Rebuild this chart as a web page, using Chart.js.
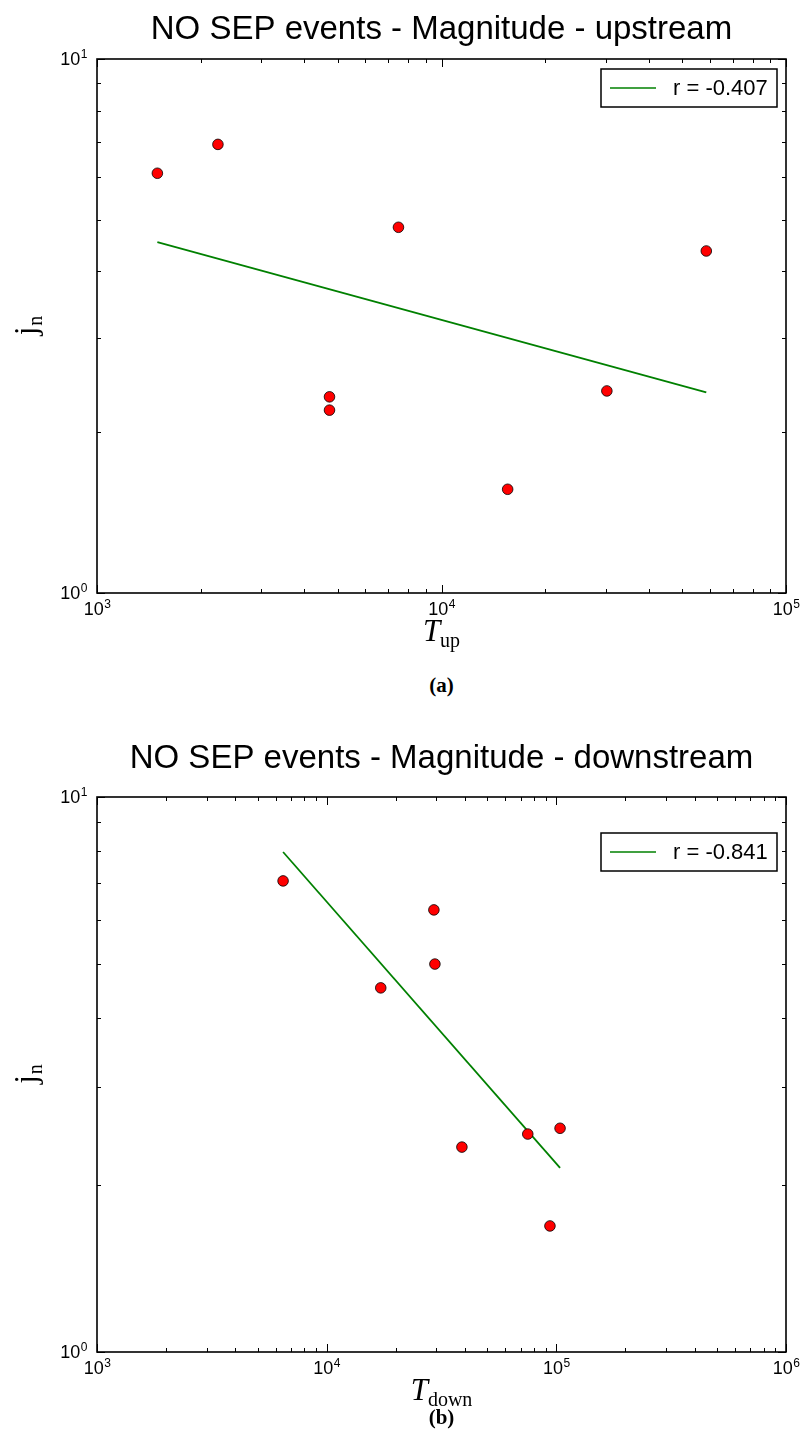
<!DOCTYPE html>
<html>
<head>
<meta charset="utf-8">
<script src="https://cdn.jsdelivr.net/npm/chart.js@4.4.1/dist/chart.umd.min.js"></script>
<style>
    body { margin: 0; background: #fff; }
    .wrap { position: relative; width: 802px; height: 1438px; overflow: hidden; }
    .panel { position: absolute; left: 0; width: 802px; }
    .caption {
        position: absolute; left: 97px; width: 689px; text-align: center;
        font-family: "Liberation Serif", "DejaVu Serif", serif; font-weight: bold; font-size: 21px;
    }
</style>
</head>
<body>
<div class="wrap">
    <div class="panel" style="top:0"><canvas id="chartUp" width="802" height="660"></canvas></div>
    <div class="caption" style="top:673px">(a)</div>
    <div class="panel" style="top:720px"><canvas id="chartDown" width="802" height="700"></canvas></div>
    <div class="caption" style="top:1405px">(b)</div>
</div>
<script>
// Panel (a): upstream
const upTime = [1497, 2244, 4730, 4730, 7500, 15560, 30200, 58700];
const upJn = [6.11, 6.92, 2.33, 2.20, 4.84, 1.564, 2.39, 4.37];
const upFitTime = [1497, 58700];
const upFitJn = [4.54, 2.376];
const upFitLabel = 'r = -0.407';
const upXTicks = [1000, 2000, 3000, 4000, 5000, 6000, 7000, 8000, 9000,
    10000, 20000, 30000, 40000, 50000, 60000, 70000, 80000, 90000, 100000];
const upXMajor = [1000, 10000, 100000];
const upXExp = ['3', '4', '5'];

// Panel (b): downstream
const downTime = [6460, 17200, 29300, 29600, 38800, 75100, 93800, 103800];
const downJn = [7.06, 4.53, 6.26, 5.00, 2.34, 2.47, 1.687, 2.53];
const downFitTime = [6460, 103800];
const downFitJn = [7.96, 2.146];
const downFitLabel = 'r = -0.841';
const downXTicks = [1000, 2000, 3000, 4000, 5000, 6000, 7000, 8000, 9000,
    10000, 20000, 30000, 40000, 50000, 60000, 70000, 80000, 90000,
    100000, 200000, 300000, 400000, 500000, 600000, 700000, 800000, 900000, 1000000];
const downXMajor = [1000, 10000, 100000, 1000000];
const downXExp = ['3', '4', '5', '6'];

// shared y axis (j_n)
const jnTicks = [1, 2, 3, 4, 5, 6, 7, 8, 9, 10];
const jnMajor = [1, 10];
const jnExp = ['0', '1'];

const SANS = '"Liberation Sans", Arial, sans-serif';
const SERIF = '"Liberation Serif", "DejaVu Serif", serif';

function drawPowerLabel(ctx, exp, x, y, align) {
    ctx.font = '18px ' + SANS;
    const wBase = ctx.measureText('10').width;
    ctx.font = '12px ' + SANS;
    const wExp = ctx.measureText(exp).width;
    let left = x;
    if (align === 'center') left = x - (wBase + wExp) / 2;
    if (align === 'right') left = x - wBase - wExp;
    ctx.textAlign = 'left';
    ctx.textBaseline = 'alphabetic';
    ctx.font = '18px ' + SANS;
    ctx.fillText('10', left, y);
    ctx.font = '12px ' + SANS;
    ctx.fillText(exp, left + wBase + 0.5, y - 7);
}

function framePlugin(cfg) {
    return {
        id: 'frame',
        afterDraw(chart) {
            const ctx = chart.ctx;
            const area = chart.chartArea;
            const xs = chart.scales.x;
            const ys = chart.scales.y;
            ctx.save();
            ctx.strokeStyle = '#000';
            ctx.fillStyle = '#000';

            // tick marks point inwards, mirrored on top and right
            ctx.lineWidth = 1;
            xs.ticks.forEach(t => {
                const px = Math.round(xs.getPixelForValue(t.value)) + 0.5;
                const len = cfg.xMajor.includes(t.value) ? 8 : 4;
                ctx.beginPath();
                ctx.moveTo(px, area.bottom);
                ctx.lineTo(px, area.bottom - len);
                ctx.moveTo(px, area.top);
                ctx.lineTo(px, area.top + len);
                ctx.stroke();
            });
            ys.ticks.forEach(t => {
                const py = Math.round(ys.getPixelForValue(t.value)) + 0.5;
                const len = jnMajor.includes(t.value) ? 8 : 4;
                ctx.beginPath();
                ctx.moveTo(area.left, py);
                ctx.lineTo(area.left + len, py);
                ctx.moveTo(area.right, py);
                ctx.lineTo(area.right - len, py);
                ctx.stroke();
            });

            ctx.lineWidth = 1.6;
            ctx.strokeRect(area.left, area.top, area.width, area.height);

            // tick labels
            cfg.xMajor.forEach((v, i) => {
                drawPowerLabel(ctx, cfg.xExp[i], xs.getPixelForValue(v), area.bottom + 22, 'center');
            });
            jnMajor.forEach((v, i) => {
                drawPowerLabel(ctx, jnExp[i], area.left - 10, ys.getPixelForValue(v) + 6, 'right');
            });

            // x axis title: italic T with roman subscript
            ctx.textBaseline = 'alphabetic';
            ctx.textAlign = 'left';
            ctx.font = 'italic 31px ' + SERIF;
            const wT = ctx.measureText('T').width;
            ctx.font = '20px ' + SERIF;
            const wSub = ctx.measureText(cfg.xSub).width;
            const cx = (area.left + area.right) / 2;
            const tx = cx - (wT + wSub) / 2;
            const ty = area.bottom + 48;
            ctx.font = 'italic 31px ' + SERIF;
            ctx.fillText('T', tx, ty);
            ctx.font = '20px ' + SERIF;
            ctx.fillText(cfg.xSub, tx + wT, ty + 6);

            // y axis title: j_n, rotated
            ctx.save();
            ctx.translate(36, (area.top + area.bottom) / 2);
            ctx.rotate(-Math.PI / 2);
            ctx.font = '31px ' + SERIF;
            const wJ = ctx.measureText('j').width;
            ctx.font = '20px ' + SERIF;
            const wN = ctx.measureText('n').width;
            ctx.font = '31px ' + SERIF;
            ctx.fillText('j', -(wJ + wN) / 2, 0);
            ctx.font = '20px ' + SERIF;
            ctx.fillText('n', -(wJ + wN) / 2 + wJ + 1, 6);
            ctx.restore();

            // legend box with the fit line
            const fit = chart.data.datasets[1];
            const boxW = 176;
            const boxH = 38;
            const bx = area.right - 9 - boxW;
            const by = area.top + cfg.legendTop;
            ctx.fillStyle = '#fff';
            ctx.fillRect(bx, by, boxW, boxH);
            ctx.lineWidth = 1.5;
            ctx.strokeStyle = '#000';
            ctx.strokeRect(bx, by, boxW, boxH);
            ctx.strokeStyle = fit.borderColor;
            ctx.lineWidth = 1.6;
            ctx.beginPath();
            ctx.moveTo(bx + 9, by + boxH / 2);
            ctx.lineTo(bx + 55, by + boxH / 2);
            ctx.stroke();
            ctx.fillStyle = '#000';
            ctx.font = '22px ' + SANS;
            ctx.textBaseline = 'middle';
            ctx.fillText(fit.label, bx + 72, by + boxH / 2 + 1);

            ctx.restore();
        }
    };
}

function makeChart(id, cfg) {
    const points = cfg.time.map((t, i) => ({ x: t, y: cfg.jn[i] }));
    const fitLine = cfg.fitTime.map((t, i) => ({ x: t, y: cfg.fitJn[i] }));
    return new Chart(document.getElementById(id), {
        type: 'scatter',
        data: {
            datasets: [{
                label: 'events',
                data: points,
                backgroundColor: '#ff0000',
                borderColor: '#000',
                borderWidth: 0.8,
                pointRadius: 5.3,
                pointHoverRadius: 5.3
            }, {
                label: cfg.fitLabel,
                data: fitLine,
                showLine: true,
                borderColor: '#008000',
                borderWidth: 1.8,
                pointRadius: 0,
                fill: false
            }]
        },
        options: {
            responsive: false,
            animation: false,
            events: [],
            layout: { padding: { left: 0, right: 16, top: 0, bottom: 0 } },
            plugins: {
                legend: { display: false },
                tooltip: { enabled: false },
                title: {
                    display: true,
                    fullSize: false,
                    text: cfg.title,
                    color: '#000',
                    font: { family: SANS, size: 33, weight: 'normal', lineHeight: 1 },
                    padding: cfg.titlePadding
                }
            },
            scales: {
                x: {
                    type: 'logarithmic',
                    min: cfg.xTicks[0],
                    max: cfg.xTicks[cfg.xTicks.length - 1],
                    grid: { display: false, drawTicks: false },
                    border: { display: false },
                    ticks: { display: false },
                    afterBuildTicks: scale => { scale.ticks = cfg.xTicks.map(v => ({ value: v })); },
                    afterFit: scale => { scale.height = cfg.xAxisHeight; }
                },
                y: {
                    type: 'logarithmic',
                    min: 1,
                    max: 10,
                    grid: { display: false, drawTicks: false },
                    border: { display: false },
                    ticks: { display: false },
                    afterBuildTicks: scale => { scale.ticks = jnTicks.map(v => ({ value: v })); },
                    afterFit: scale => { scale.width = 97; }
                }
            }
        },
        plugins: [framePlugin(cfg)]
    });
}

makeChart('chartUp', {
    title: 'NO SEP events - Magnitude - upstream',
    titlePadding: { top: 13, bottom: 13 },
    time: upTime, jn: upJn,
    fitTime: upFitTime, fitJn: upFitJn, fitLabel: upFitLabel,
    xTicks: upXTicks, xMajor: upXMajor, xExp: upXExp,
    xSub: 'up', xAxisHeight: 67, legendTop: 10
});

makeChart('chartDown', {
    title: 'NO SEP events - Magnitude - downstream',
    titlePadding: { top: 22, bottom: 22 },
    time: downTime, jn: downJn,
    fitTime: downFitTime, fitJn: downFitJn, fitLabel: downFitLabel,
    xTicks: downXTicks, xMajor: downXMajor, xExp: downXExp,
    xSub: 'down', xAxisHeight: 68, legendTop: 36
});
</script>
</body>
</html>
